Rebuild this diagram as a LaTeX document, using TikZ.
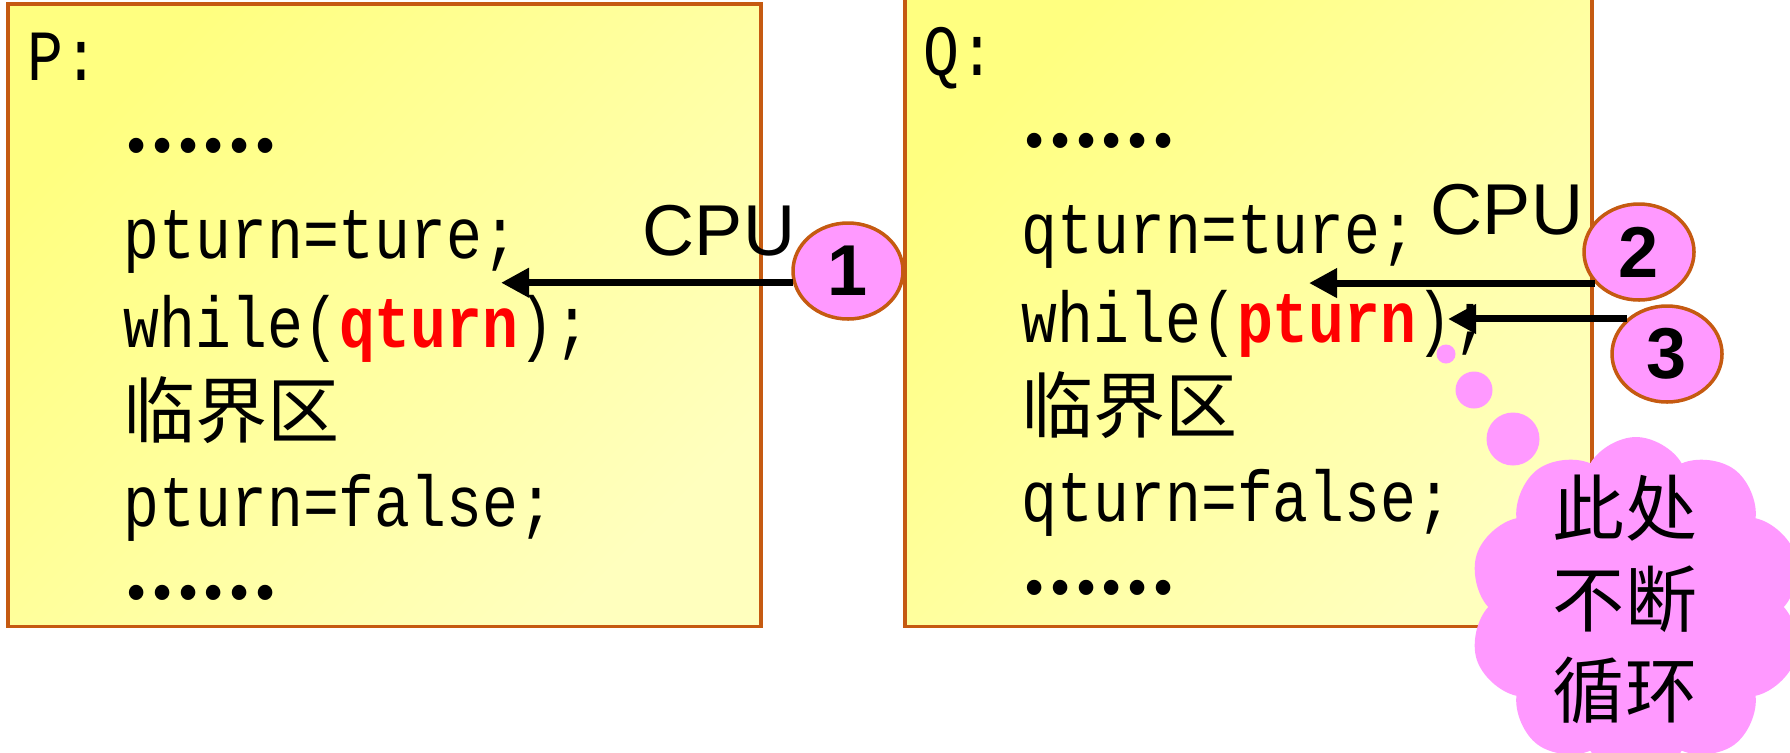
\documentclass[tikz,border=0pt]{standalone}
\usepackage{fontspec}
\setmainfont{Liberation Sans}
\newfontfamily\codefont[FakeStretch=0.83]{Liberation Mono}
\newfontfamily\cjkfont{Noto Sans CJK SC}
\usepackage{xcolor}
\usetikzlibrary{arrows.meta,positioning,shapes.geometric,shapes.symbols}
\definecolor{slideYellow}{HTML}{FFFF80}
\definecolor{slidePale}{HTML}{FFFFBE}
\definecolor{slideBorder}{HTML}{C55A11}
\definecolor{slidePink}{HTML}{FF99FF}
\definecolor{slideRed}{HTML}{FF0000}
\newcommand{\hotvar}[1]{\textcolor{slideRed}{\bfseries #1}}
\newcommand{\skipped}{\raisebox{0.16cm}{\cjkfont\bfseries\fontsize{19.5}{24}\selectfont ……}}

\begin{document}
\begin{tikzpicture}[
  frame/.style={rectangle,draw=slideBorder,line width=1pt,top color=slideYellow,middle color=slidePale,bottom color=slidePale,shading angle=45,anchor=south west,inner sep=0pt},
  code/.style={anchor=base west,inner sep=0pt,font=\codefont\fontsize{20.5}{24}\selectfont},
  cpu/.style={anchor=base,inner sep=0pt,font=\fontsize{20.5}{24}\selectfont},
  badge/.style={ellipse,draw=slideBorder,fill=slidePink,line width=1pt,minimum width=1.1cm,minimum height=0.96cm,inner sep=0pt,font=\bfseries\fontsize{20.5}{24}\selectfont},
  arrow/.style={-{Triangle[length=8pt,width=8pt]},line width=2pt,color=black},
  bubble/.style={circle,fill=slidePink,inner sep=0pt}
]
\useasboundingbox (0,0) rectangle (17.90,7.52);

% the two processes
\node[frame,minimum width=7.53cm,minimum height=6.22cm] (boxP) at (0.06,1.24) {};
\node[frame,minimum width=6.87cm,minimum height=6.31cm] (boxQ) at (9.03,1.24) {};

\node[code] (pName) at (0.27,6.72) {P:};
\node[code] (p1) at (1.23,5.84) {\skipped};
\node[code] (p2) at (1.23,4.94) {pturn=ture;};
\node[code] (p3) at (1.23,4.05) {while(\hotvar{qturn});};
\node[code] (p4) at (1.23,3.15) {\cjkfont 临界区};
\node[code] (p5) at (1.23,2.26) {pturn=false;};
\node[code] (p6) at (1.23,1.37) {\skipped};

\node[code] (qName) at (9.23,6.77) {Q:};
\node[code] (q1) at (10.21,5.89) {\skipped};
\node[code] (q2) at (10.21,4.99) {qturn=ture;};
\node[code] (q3) at (10.21,4.10) {while(\hotvar{pturn});};
\node[code] (q4) at (10.21,3.20) {\cjkfont 临界区};
\node[code] (q5) at (10.21,2.31) {qturn=false;};
\node[code] (q6) at (10.21,1.42) {\skipped};

% who holds the CPU
\node[cpu] (cpuP) at (7.19,4.97) {CPU};
\node[cpu] (cpuQ) at (15.07,5.18) {CPU};
\node[badge] (one) at (8.48,4.81) {1};
\node[badge] (two) at (16.39,5.00) {2};
\node[badge] (three) at (16.67,3.98) {3};

\coordinate (tipP) at (5.01,4.70);
\coordinate (tipQ) at (13.09,4.70);
\coordinate (tipLoop) at (14.48,4.32);
\draw[arrow] (one.192) -- (one.192 -| tipP);
\draw[arrow] (two.215) -- (two.215 -| tipQ);
\draw[arrow] (three.139) -- (three.139 -| tipLoop);

% thought bubble
\node[bubble,minimum size=0.19cm] (b1) at (14.46,3.98) {};
\node[bubble,minimum size=0.37cm] (b2) at (14.74,3.62) {};
\node[bubble,minimum size=0.53cm] (b3) at (15.13,3.13) {};
\node[cloud,cloud puffs=10,cloud puff arc=120,aspect=1,fill=slidePink,inner sep=0pt,minimum width=3.35cm,minimum height=3.4cm] (loop) at (16.36,1.45) {};
\node[align=center,inner sep=0pt,font=\cjkfont\fontsize{20.5}{25.9}\selectfont] (loopText) at (16.25,1.53) {此处\\不断\\循环};
\end{tikzpicture}
\end{document}
